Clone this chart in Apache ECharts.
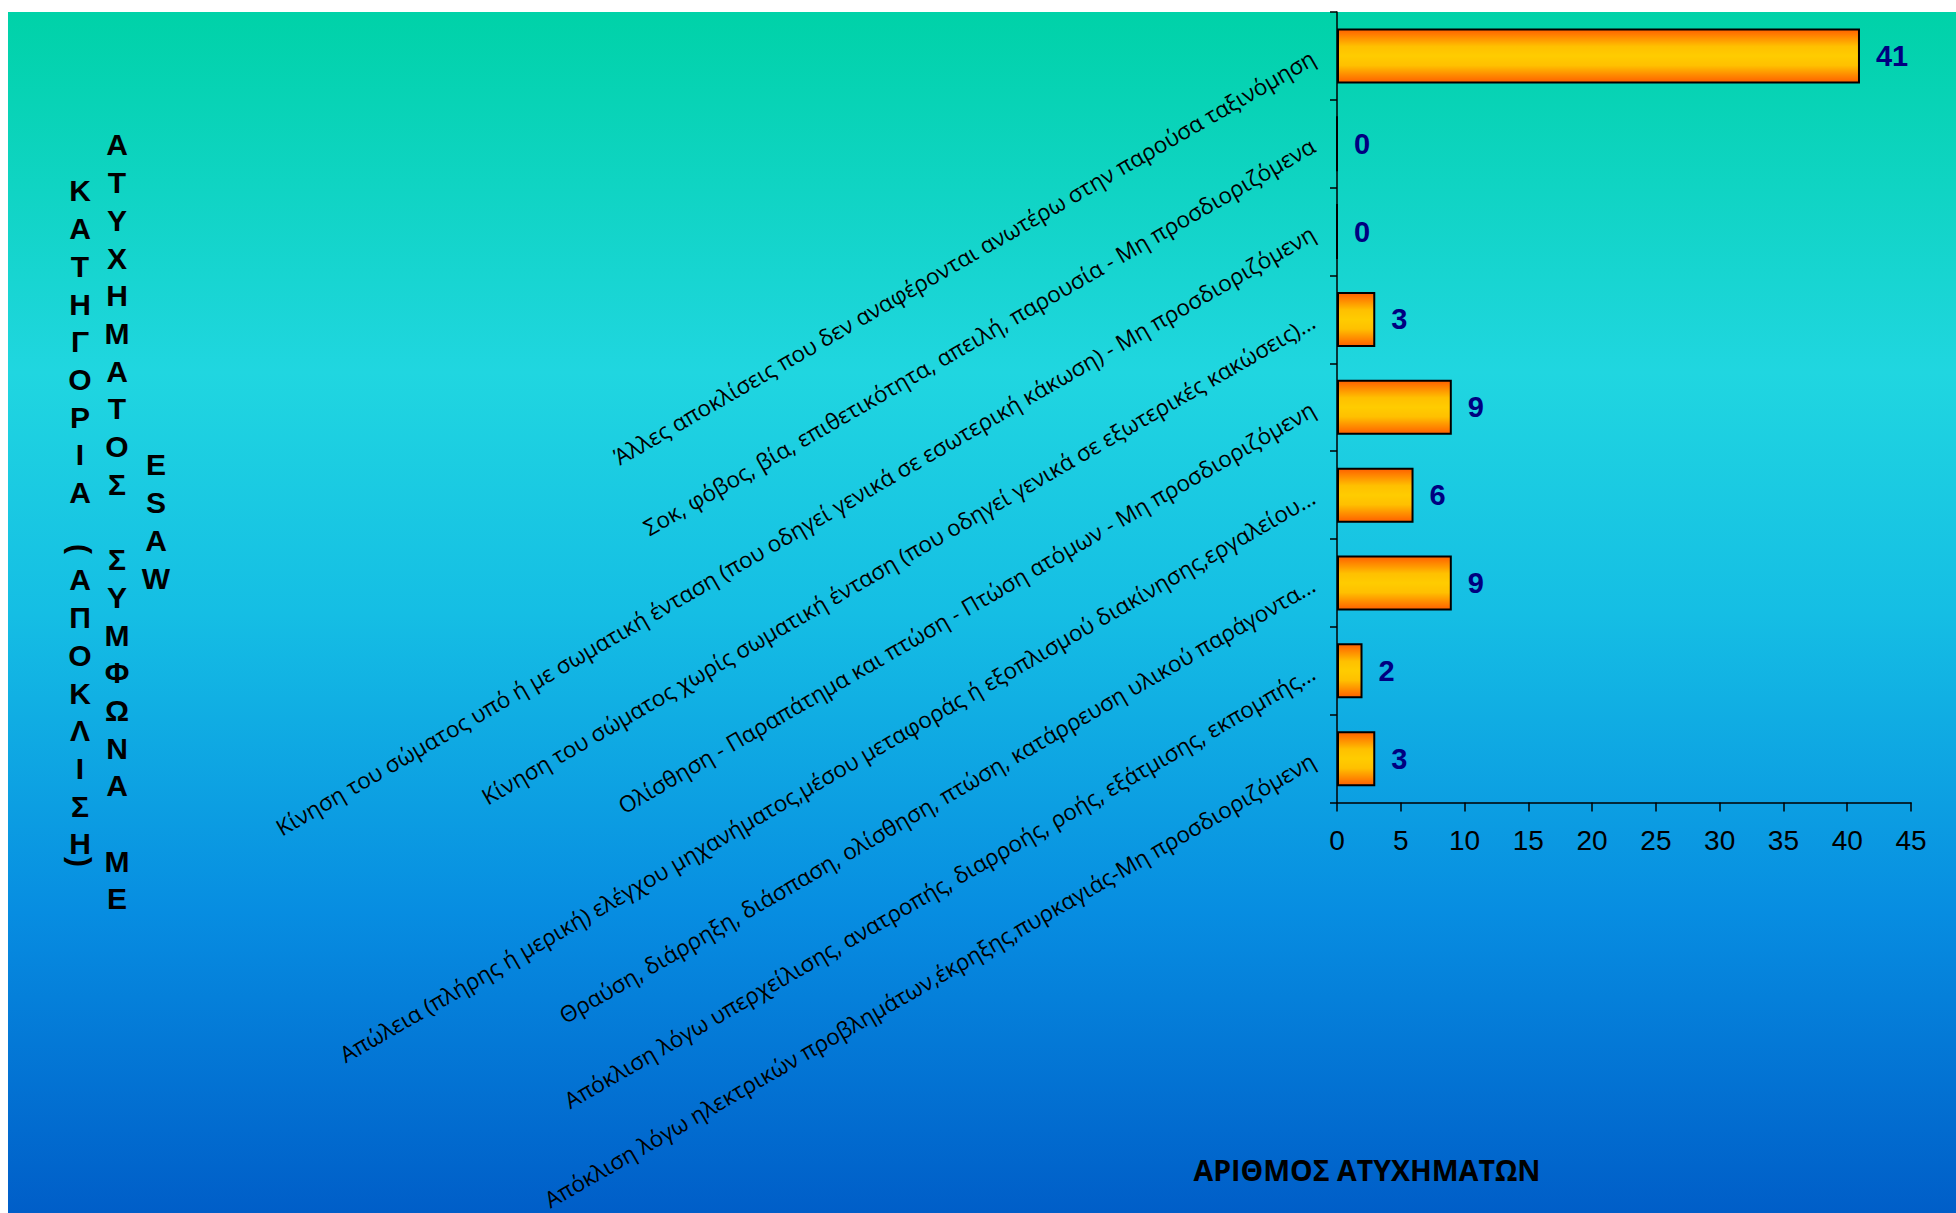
<!DOCTYPE html>
<html>
<head>
<meta charset="utf-8">
<script src="https://cdn.jsdelivr.net/npm/echarts@6/dist/echarts.min.js"></script>
<style>
html,body{margin:0;padding:0;background:#ffffff;}
#chart{width:1956px;height:1213px;}
</style>
</head>
<body>
<div id="chart"></div>
<script>
// ---- data ----
const categories = [
  'Άλλες αποκλίσεις που δεν αναφέρονται ανωτέρω στην παρούσα ταξινόμηση',
  'Σοκ, φόβος, βία, επιθετικότητα, απειλή, παρουσία - Μη προσδιοριζόμενα',
  'Κίνηση του σώματος υπό ή με σωματική ένταση (που οδηγεί γενικά σε εσωτερική κάκωση) - Μη προσδιοριζόμενη',
  'Κίνηση του σώματος χωρίς σωματική ένταση (που οδηγεί γενικά σε εξωτερικές κακώσεις)…',
  'Ολίσθηση - Παραπάτημα και πτώση - Πτώση ατόμων - Μη προσδιοριζόμενη',
  'Απώλεια (πλήρης ή μερική) ελέγχου μηχανήματος,μέσου μεταφοράς ή εξοπλισμού διακίνησης,εργαλείου…',
  'Θραύση, διάρρηξη, διάσπαση, ολίσθηση, πτώση, κατάρρευση υλικού παράγοντα…',
  'Απόκλιση λόγω υπερχείλισης, ανατροπής, διαρροής, ροής, εξάτμισης, εκπομπής…',
  'Απόκλιση λόγω ηλεκτρικών προβλημάτων,έκρηξης,πυρκαγιάς-Μη προσδιοριζόμενη'
];
const accidents = [41, 0, 0, 3, 9, 6, 9, 2, 3];
const xAxisMin = 0;
const xAxisMax = 45;
const xAxisStep = 5;
const xAxisTitle = 'ΑΡΙΘΜΟΣ ΑΤΥΧΗΜΑΤΩΝ';
const yTitleCol1Top = 'ΚΑΤΗΓΟΡΙΑ';
const yTitleCol1Bottom = 'ΑΠΟΚΛΙΣΗ';
const yTitleCol2 = 'ΑΤΥΧΗΜΑΤΟΣ ΣΥΜΦΩΝΑ ΜΕ';
const yTitleCol3 = 'ESAW';

// ---- chart ----
const chart = echarts.init(document.getElementById('chart'), null, {renderer: 'svg'});
const LH = 37.7;
const stackFont = 'bold 30px "Liberation Sans", Arial, sans-serif';
const stacked = s => s.split('').join('\n');

function vText(text, x, y) {
  return {
    type: 'text', x: x, y: y, silent: true, z: 5,
    style: {text: stacked(text), font: stackFont, fill: '#000', textAlign: 'center',
            textVerticalAlign: 'top', lineHeight: LH}
  };
}

const option = {
  animation: false,
  graphic: [
    {
      type: 'rect', silent: true, z: -10,
      shape: {x: 8, y: 12, width: 1948, height: 1201},
      style: {
        fill: new echarts.graphic.LinearGradient(0, 0, 0, 1, [
          {offset: 0, color: '#00D2A8'},
          {offset: 0.3, color: '#20D6E0'},
          {offset: 0.5, color: '#15BEE4'},
          {offset: 0.75, color: '#078DE1'},
          {offset: 1, color: '#005EC8'}
        ])
      }
    },
    vText(yTitleCol1Top, 80, 191 - LH / 2),
    vText(yTitleCol1Bottom, 80, 580 - LH / 2),
    vText(yTitleCol2, 117, 145 - LH / 2),
    vText(yTitleCol3, 156, 465 - LH / 2),
    {
      type: 'text', x: 80, y: 549, rotation: -Math.PI / 2, silent: true, z: 5,
      style: {text: '(', font: stackFont, fill: '#000', textAlign: 'center', textVerticalAlign: 'middle'}
    },
    {
      type: 'text', x: 80, y: 862, rotation: -Math.PI / 2, silent: true, z: 5,
      style: {text: ')', font: stackFont, fill: '#000', textAlign: 'center', textVerticalAlign: 'middle'}
    },
    {
      type: 'text', x: 1367, y: 1170, silent: true, z: 5,
      style: {text: xAxisTitle, font: 'bold 28.5px "Open Sans", sans-serif', fill: '#000',
              textAlign: 'center', textVerticalAlign: 'middle'}
    }
  ],
  grid: {left: 1337, right: 45, top: 12, bottom: 407, containLabel: false},
  xAxis: {
    type: 'value', min: xAxisMin, max: xAxisMax, interval: xAxisStep,
    axisLine: {show: true, lineStyle: {color: '#000', width: 1.5}},
    axisTick: {show: true, length: 9, lineStyle: {color: '#000', width: 1.5}},
    splitLine: {show: false},
    axisLabel: {fontSize: 28, color: '#000', fontFamily: '"Liberation Sans", Arial, sans-serif', margin: 24}
  },
  yAxis: {
    type: 'category', data: categories, inverse: true,
    axisLine: {show: true, lineStyle: {color: '#000', width: 1.5}},
    axisTick: {show: true, length: 7, lineStyle: {color: '#000', width: 1.5}},
    splitLine: {show: false},
    axisLabel: {rotate: 30, interval: 0, fontSize: 22.5, color: '#000',
                fontFamily: '"Open Sans", "Noto Sans", sans-serif', margin: 24}
  },
  series: [{
    type: 'bar',
    data: accidents,
    barWidth: 55,
    itemStyle: {
      color: new echarts.graphic.LinearGradient(0, 0, 0, 1, [
        {offset: 0, color: '#FF6000'},
        {offset: 0.32, color: '#FFC000'},
        {offset: 0.5, color: '#FFCC00'},
        {offset: 0.68, color: '#FFC000'},
        {offset: 1, color: '#FF6000'}
      ]),
      borderColor: '#000', borderWidth: 2
    },
    label: {
      show: true, position: 'right', distance: 16,
      color: '#000080', fontWeight: 'bold', fontSize: 29,
      fontFamily: '"Liberation Sans", Arial, sans-serif'
    }
  }]
};
chart.setOption(option);
</script>
</body>
</html>
